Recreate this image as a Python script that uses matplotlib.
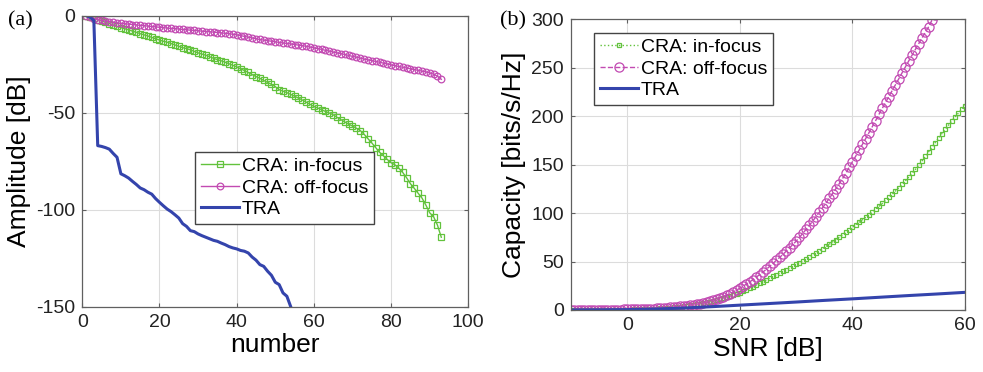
import matplotlib
matplotlib.use("Agg")
import matplotlib.pyplot as plt
import numpy as np

plt.rcParams["font.family"] = ["Liberation Sans", "DejaVu Sans"]
plt.rcParams["axes.unicode_minus"] = False

# (a) amplitude of the sorted singular values
idx_cra = np.arange(1, 94)
amp_in_focus = [
    0, -0.6, -1.3, -2.0, -2.8, -3.4, -4.1, -4.8, -5.5, -6.2,
    -6.8, -7.3, -8.0, -8.6, -9.3, -9.9, -10.5, -11.2, -11.9, -12.6,
    -13.2, -13.7, -14.4, -15.1, -15.8, -16.5, -17.0, -17.6, -18.4, -19.2,
    -19.8, -20.4, -21.2, -22.0, -22.7, -23.3, -24.0, -24.8, -25.6, -26.4,
    -27.4, -28.3, -29.3, -30.4, -31.4, -32.3, -33.4, -34.4, -35.4, -36.6,
    -38.2, -38.9, -39.7, -40.6, -41.5, -42.5, -43.5, -44.6, -45.7, -46.8,
    -47.6, -48.5, -49.4, -50.2, -51.1, -52.4, -53.6, -54.8, -55.9, -56.9,
    -58.0, -59.2, -61.1, -63.4, -65.6, -68.0, -70.4, -72.2, -74.1, -75.8,
    -76.9, -78.6, -80.8, -83.5, -86.6, -89.0, -91.5, -94.0, -97.6, -101.6,
    -103.6, -107.9, -114.2,
]
amp_off_focus = [
    0, -0.9, -1.5, -2.0, -2.4, -2.8, -3.1, -3.4, -3.7, -4.0,
    -4.2, -4.4, -4.6, -4.8, -5.0, -5.2, -5.4, -5.6, -5.8, -6.0,
    -6.2, -6.4, -6.6, -6.7, -6.9, -7.1, -7.3, -7.5, -7.6, -7.8,
    -8.0, -8.2, -8.3, -8.5, -8.7, -8.9, -9.1, -9.3, -9.6, -9.9,
    -10.3, -10.7, -11.1, -11.5, -11.9, -12.3, -12.6, -12.9, -13.2, -13.5,
    -13.8, -14.1, -14.3, -14.6, -14.9, -15.2, -15.5, -15.8, -16.2, -16.6,
    -17.0, -17.4, -17.9, -18.3, -18.8, -19.2, -19.6, -20.0, -20.5, -21.0,
    -21.4, -21.9, -22.4, -22.8, -23.2, -23.6, -24.0, -24.5, -24.9, -25.4,
    -25.8, -26.2, -26.6, -27.0, -27.4, -27.8, -28.2, -28.6, -29.0, -29.5,
    -30.2, -31.2, -32.8,
]
idx_tra = np.arange(1, 56)
amp_tra = [
    0, -0.8, -2.5, -67.0, -67.4, -68.0, -68.8, -71.0, -73.0, -81.5,
    -82.5, -83.7, -85.4, -87.0, -88.8, -89.7, -91.0, -92.0, -94.3, -96.2,
    -98.0, -99.7, -101.0, -102.6, -104.3, -107.2, -108.6, -110.8, -111.3, -112.5,
    -113.4, -114.2, -115.0, -115.8, -116.3, -117.2, -118.0, -119.0, -119.7, -120.2,
    -121.0, -121.4, -122.3, -124.4, -126.0, -128.3, -129.2, -131.7, -133.8, -137.4,
    -138.6, -142.9, -144.6, -150.0, -156.0,
]

# (b) capacity vs SNR
snr = np.linspace(-10, 60, 120)
cap_in_focus = [
    0.1, 0.1, 0.1, 0.1, 0.1, 0.1, 0.2, 0.2, 0.2, 0.2,
    0.2, 0.3, 0.3, 0.3, 0.3, 0.4, 0.4, 0.4, 0.5, 0.6,
    0.7, 0.8, 0.9, 1.0, 1.2, 1.3, 1.5, 1.7, 1.9, 2.2,
    2.5, 2.8, 3.1, 3.5, 3.8, 4.3, 4.8, 5.3, 5.9, 6.5,
    7.2, 7.9, 8.6, 9.4, 10.3, 11.2, 12.2, 13.2, 14.4, 15.5,
    16.8, 18.0, 19.4, 20.9, 22.5, 24.1, 25.7, 27.4, 29.2, 31.1,
    32.9, 34.6, 36.4, 38.2, 40.0, 41.7, 43.5, 45.2, 47.0, 49.0,
    51.0, 53.0, 55.0, 57.0, 59.1, 61.2, 63.4, 65.6, 67.9, 70.2,
    72.7, 75.1, 77.7, 80.3, 82.9, 85.5, 88.1, 90.7, 93.2, 95.8,
    98.5, 101.3, 104.1, 107.0, 110.0, 113.1, 116.3, 119.5, 122.8, 126.2,
    129.7, 133.3, 137.0, 141.0, 145.1, 149.3, 153.7, 158.4, 163.1, 167.9,
    172.7, 177.3, 181.9, 186.3, 190.7, 195.1, 199.2, 203.2, 207.1, 211.0,
]
cap_off_focus = [
    0.2, 0.2, 0.2, 0.2, 0.2, 0.2, 0.3, 0.3, 0.3, 0.3,
    0.3, 0.4, 0.4, 0.4, 0.5, 0.5, 0.6, 0.6, 0.7, 0.8,
    0.8, 0.9, 1.0, 1.1, 1.3, 1.4, 1.6, 1.8, 2.0, 2.3,
    2.6, 2.9, 3.3, 3.6, 4.0, 4.5, 5.0, 5.5, 6.0, 6.6,
    7.4, 8.2, 9.3, 10.3, 11.4, 12.6, 13.9, 15.3, 16.9, 18.6,
    20.5, 22.5, 24.6, 26.8, 29.1, 31.4, 34.0, 36.6, 39.3, 42.0,
    45.0, 48.1, 51.2, 54.2, 57.4, 60.7, 64.1, 67.6, 71.0, 75.0,
    79.1, 83.2, 87.4, 91.8, 96.3, 100.9, 105.6, 110.4, 115.2, 120.2,
    125.2, 130.3, 135.6, 140.9, 147.2, 153.0, 158.8, 164.8, 170.8, 176.9,
    183.0, 189.2, 195.4, 201.8, 208.0, 214.2, 220.3, 226.4, 232.5, 238.6,
    244.8, 250.9, 257.0, 262.9, 268.8, 274.7, 280.6, 286.4, 292.2, 299.0,
    304.0,
]
snr_tra = [-10, -5, 0, 5, 10, 15, 20, 25, 30, 35, 40, 45, 50, 55, 60]
cap_tra = [0.05, 0.15, 0.4, 1.0, 2.0, 3.4, 5.0, 6.6, 8.2, 9.9, 11.5, 13.2, 14.9, 16.5, 18.2]

GREEN = "#62c23c"
MAGENTA = "#c24ab2"
BLUE = "#3444ac"
FRAME = "#606060"


def style_axes(ax):
    ax.grid(True, color="#dcdcdc", linewidth=0.8)
    ax.set_axisbelow(True)
    for s in ax.spines.values():
        s.set_color(FRAME)
        s.set_linewidth(0.9)
    ax.tick_params(direction="in", length=3, width=0.8, color=FRAME,
                   top=True, right=True, labelsize=14, labelcolor="#222222", pad=5)


def boxed_legend(ax, anchor):
    leg = ax.legend(loc="upper left", bbox_to_anchor=anchor, borderaxespad=0,
                    fontsize=14, handlelength=1.95, handletextpad=0.15,
                    borderpad=0.3, labelspacing=0.2, fancybox=False, framealpha=1)
    leg.get_frame().set_edgecolor("#444444")
    leg.get_frame().set_linewidth(1.0)


fig = plt.figure(figsize=(9.83, 3.72), dpi=100)
ax1 = fig.add_axes([0.0837, 0.1755, 0.3927, 0.7825])
ax2 = fig.add_axes([0.5809, 0.1667, 0.4008, 0.7815])

ax = ax1
ax.plot(idx_cra, amp_in_focus, "-s", color=GREEN, lw=1.0, ms=4.6,
        mfc="none", mew=0.9, label="CRA: in-focus")
ax.plot(idx_cra, amp_off_focus, "-o", color=MAGENTA, lw=1.0, ms=4.8,
        mfc="none", mew=0.9, label="CRA: off-focus")
ax.plot(idx_tra, amp_tra, "-", color=BLUE, lw=2.2, label="TRA")
ax.set_xlim(0, 100)
ax.set_ylim(-150, 0)
ax.set_xticks([0, 20, 40, 60, 80, 100])
ax.set_yticks([-150, -100, -50, 0])
style_axes(ax)
ax.set_xlabel("number", fontsize=19, labelpad=2)
ax.set_ylabel("Amplitude [dB]", fontsize=19, labelpad=4)
boxed_legend(ax, (0.292, 0.532))

ax = ax2
ax.plot(snr, cap_in_focus, ":s", color=GREEN, lw=1.0, ms=3.0,
        mfc="none", mew=0.9, label="CRA: in-focus")
ax.plot(snr[:len(cap_off_focus)], cap_off_focus, "--o", color=MAGENTA, lw=1.0,
        ms=6.6, mfc="none", mew=0.9, label="CRA: off-focus")
ax.plot(snr_tra, cap_tra, "-", color=BLUE, lw=2.2, label="TRA")
ax.set_xlim(-10, 60)
ax.set_ylim(0, 300)
ax.set_xticks([0, 20, 40, 60])
ax.set_yticks([0, 50, 100, 150, 200, 250, 300])
style_axes(ax)
ax.set_xlabel("SNR [dB]", fontsize=19, labelpad=2)
ax.set_ylabel("Capacity [bits/s/Hz]", fontsize=19, labelpad=4)
boxed_legend(ax, (0.058, 0.954))

fig.text(0.008, 0.945, "(a)", fontsize=16, family=["Liberation Serif"], va="center")
fig.text(0.509, 0.945, "(b)", fontsize=16, family=["Liberation Serif"], va="center")

fig.savefig("out.png", dpi=100)
